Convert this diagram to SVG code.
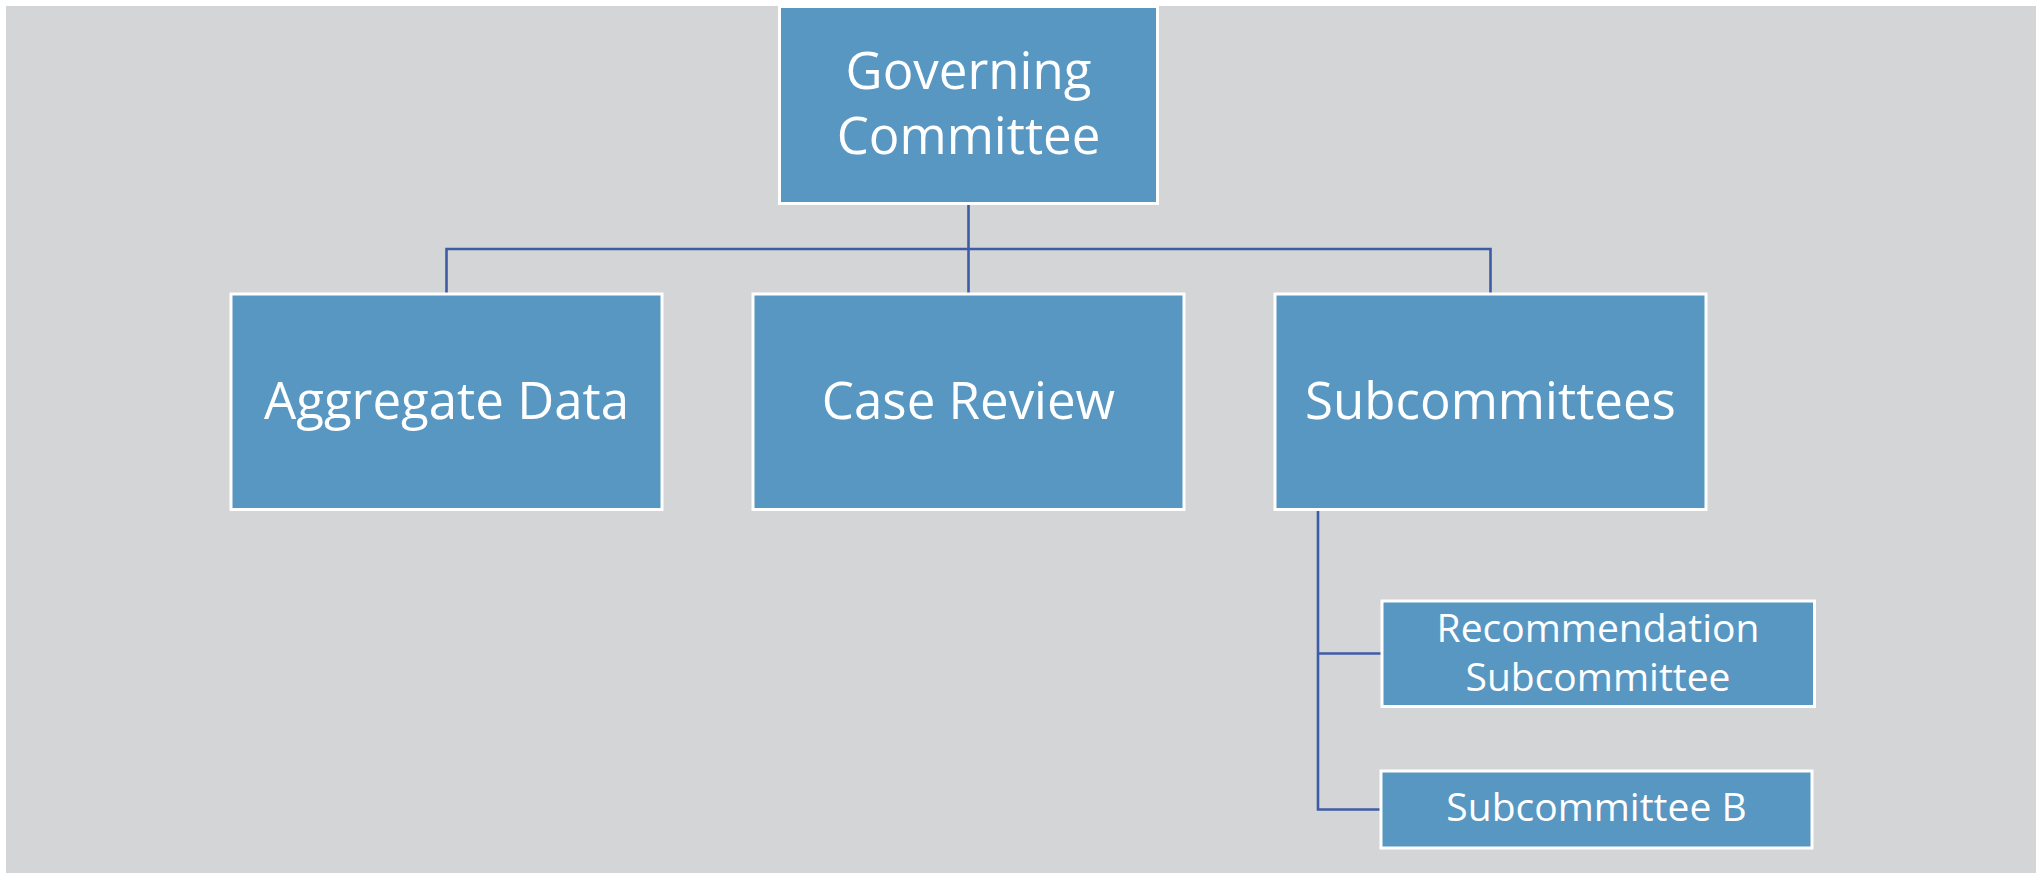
<svg xmlns="http://www.w3.org/2000/svg" width="2036" height="873" viewBox="0 0 2036 873">
<style>
.bg{fill:#D4D5D7}
.box{fill:#5797C2;stroke:#FFFFFF;stroke-width:3}
.t{font-family:"Open Sans","Noto Sans",sans-serif;fill:#FFFFFF;text-anchor:middle}
.big{font-size:51px}
.small{font-size:39px}
.conn{fill:none;stroke:#3E5CA6;stroke-width:2.6}
</style>
<rect x="0" y="0" width="2036" height="873" fill="#FFFFFF"/>
<rect class="bg" x="6" y="6" width="2030" height="867"/>
<g id="connectors">
<path class="conn" d="M968.5,204 V294"/>
<path class="conn" d="M446.5,294 V249 H1490.5 V294"/>
<path class="conn" d="M1318,510 V809.5 H1381"/>
<path class="conn" d="M1318,653.5 H1382"/>
</g>
<g id="governing">
<rect class="box" x="779.5" y="6.5" width="378" height="197"/>
<text class="t big" x="968.5" y="89">Governing</text>
<text class="t big" x="968.5" y="154">Committee</text>
</g>
<g id="aggregate">
<rect class="box" x="231" y="294" width="431" height="215.5"/>
<text class="t big" x="446.5" y="418.5">Aggregate Data</text>
</g>
<g id="casereview">
<rect class="box" x="753" y="294" width="431" height="215.5"/>
<text class="t big" x="968.5" y="418.5">Case Review</text>
</g>
<g id="subcommittees">
<rect class="box" x="1275" y="294" width="431" height="215.5"/>
<text class="t big" x="1490.5" y="418.5">Subcommittees</text>
</g>
<g id="recommendation">
<rect class="box" x="1382" y="601" width="432.5" height="105.5"/>
<text class="t small" x="1598" y="642">Recommendation</text>
<text class="t small" x="1598" y="691">Subcommittee</text>
</g>
<g id="subcommitteeb">
<rect class="box" x="1381" y="771" width="431" height="77"/>
<text class="t small" x="1596.5" y="820.5">Subcommittee B</text>
</g>
</svg>
